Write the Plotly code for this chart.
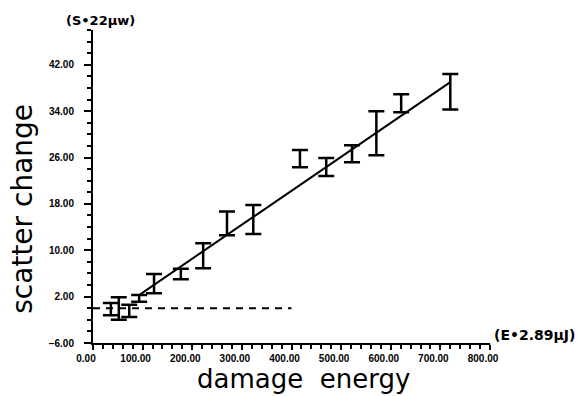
import plotly.graph_objects as go

# damage energy (x) and scatter change bar extents (low/high)
energy = [36, 52, 73, 93, 123, 177, 222, 270, 323, 417, 470, 522, 571, 621, 720]
s_low = [-1.2, -2.0, -1.5, 1.1, 2.6, 5.0, 6.9, 12.6, 12.8, 24.3, 22.8, 25.2, 26.4, 33.8, 34.3]
s_high = [0.9, 1.9, 0.6, 2.3, 5.9, 6.8, 11.2, 16.7, 17.8, 27.3, 25.9, 28.1, 34.0, 36.9, 40.4]

fit_x = [95, 720]
fit_y = [2.4, 39.0]

base_x = [0, 400]
base_y = [0, 0]

y_ticks = [-6, 2, 10, 18, 26, 34, 42]
x_ticks = [0, 100, 200, 300, 400, 500, 600, 700, 800]

center = [(a + b) / 2 for a, b in zip(s_low, s_high)]
half = [(b - a) / 2 for a, b in zip(s_low, s_high)]

fig = go.Figure()
fig.add_trace(go.Scatter(
    x=base_x, y=base_y, mode="lines",
    line=dict(color="black", width=2, dash="7px,6px"), showlegend=False,
))
fig.add_trace(go.Scatter(
    x=fit_x, y=fit_y, mode="lines",
    line=dict(color="black", width=2), showlegend=False,
))
fig.add_trace(go.Scatter(
    x=energy, y=center, mode="markers",
    marker=dict(size=1, color="rgba(0,0,0,0)"),
    error_y=dict(type="data", array=half, visible=True, color="black",
                 thickness=2.5, width=8),
    showlegend=False,
))

tickfont = dict(family="Liberation Sans", size=10, color="black", weight="bold")
fig.update_xaxes(
    range=[0, 800], tickvals=x_ticks, tickformat=".2f",
    showline=True, linecolor="black", linewidth=2, mirror=False,
    showgrid=False, zeroline=False,
    ticks="outside", ticklen=5, tickwidth=2, tickcolor="black",
    minor=dict(dtick=20, tick0=0, ticks="outside", ticklen=4, tickwidth=1.5, tickcolor="black"),
    tickfont=tickfont, ticklabelshift=-7, ticklabelstandoff=0,
)
fig.update_yaxes(
    range=[-6, 48], tickvals=y_ticks, tickformat=".2f",
    showline=True, linecolor="black", linewidth=2, mirror=False,
    showgrid=False, zeroline=False,
    ticks="outside", ticklen=7, tickwidth=2, tickcolor="black",
    minor=dict(dtick=2, tick0=0, ticks="outside", ticklen=4, tickwidth=1.5, tickcolor="black"),
    tickfont=tickfont, ticklabelstandoff=8,
)

fig.update_layout(
    width=585, height=396,
    margin=dict(l=93, r=95, t=30, b=53),
    plot_bgcolor="white", paper_bgcolor="white",
    annotations=[
        dict(text="scatter change", xref="paper", yref="paper",
             x=-0.178, y=0.43, textangle=-90, showarrow=False,
             font=dict(family="DejaVu Sans", size=28, color="black"),
             xanchor="center", yanchor="middle"),
        dict(text="damage  energy", xref="paper", yref="paper",
             x=0.53, y=-0.168, showarrow=False,
             font=dict(family="DejaVu Sans", size=26, color="black"),
             xanchor="center", yanchor="bottom"),
        dict(text="(S•22μw)", xref="paper", yref="paper",
             x=0.02, y=1.03, showarrow=False,
             font=dict(family="DejaVu Sans", size=13, color="black", weight="bold"),
             xanchor="center", yanchor="middle"),
        dict(text="(E•2.89μJ)", xref="paper", yref="paper",
             x=1.005, y=0.026, showarrow=False,
             font=dict(family="DejaVu Sans", size=14, color="black", weight="bold"),
             xanchor="left", yanchor="middle"),
    ],
)

fig.write_html("out.html")
